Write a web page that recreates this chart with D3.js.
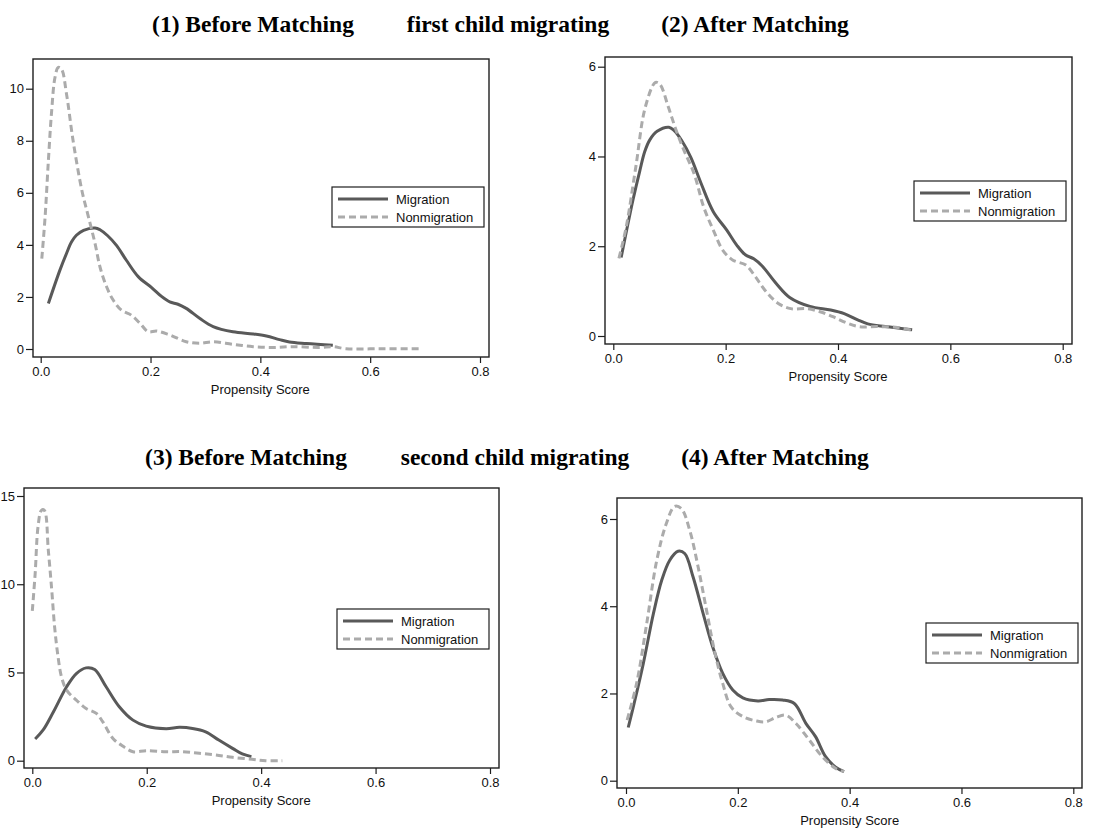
<!DOCTYPE html>
<html>
<head>
<meta charset="utf-8">
<script src="https://cdn.jsdelivr.net/npm/d3@7"></script>
<style>
  body { margin: 0; background: #fff; }
  svg { display: block; }
</style>
</head>
<body>
<div id="viz"></div>
<script>
/* global d3 */
// density estimates, [propensity score, density]
const xTicks = [0, 0.2, 0.4, 0.6, 0.8];
const yTicks1 = [0, 2, 4, 6, 8, 10];
const yTicks2 = [0, 2, 4, 6];
const yTicks3 = [0, 5, 10, 15];
const yTicks4 = [0, 2, 4, 6];

const seriesNames = ['Migration', 'Nonmigration'];

const titlesTop = ['(1) Before Matching', 'first child migrating', '(2) After Matching'];
const titlesBottom = ['(3) Before Matching', 'second child migrating', '(4) After Matching'];

// first child, treated group (same curve before and after matching)
const migFirst = [
  [0.014, 1.75], [0.035, 3.03], [0.047, 3.67], [0.056, 4.11], [0.065, 4.37], [0.078, 4.56],
  [0.099, 4.65], [0.108, 4.58], [0.122, 4.35], [0.138, 3.98], [0.156, 3.41], [0.178, 2.77],
  [0.202, 2.36], [0.22, 2.02], [0.235, 1.81], [0.25, 1.72], [0.265, 1.56], [0.29, 1.17],
  [0.314, 0.86], [0.35, 0.66], [0.387, 0.58], [0.411, 0.5], [0.435, 0.36], [0.453, 0.27],
  [0.484, 0.21], [0.532, 0.14],
];

const nonmigFirstBefore = [
  [0.002, 3.47], [0.008, 5.07], [0.014, 7.24], [0.02, 9.16], [0.026, 10.43], [0.032, 10.82],
  [0.038, 10.75], [0.047, 9.8], [0.059, 8.0], [0.075, 6.09], [0.087, 5.07], [0.099, 4.05],
  [0.108, 3.15], [0.12, 2.39], [0.132, 1.88], [0.147, 1.49], [0.165, 1.3], [0.181, 0.98],
  [0.196, 0.66], [0.211, 0.69], [0.235, 0.54], [0.265, 0.28], [0.29, 0.22], [0.314, 0.28],
  [0.35, 0.18], [0.387, 0.09], [0.423, 0.06], [0.459, 0.09], [0.508, 0.06], [0.532, 0.09],
  [0.556, 0.01], [0.62, 0.01], [0.69, 0.01],
];

const nonmigFirstAfter = [
  [0.01, 1.73], [0.023, 2.43], [0.04, 3.76], [0.057, 5.1], [0.075, 5.65], [0.083, 5.61],
  [0.098, 5.1], [0.112, 4.58], [0.126, 4.13], [0.144, 3.61], [0.161, 2.87], [0.178, 2.36],
  [0.195, 1.91], [0.213, 1.69], [0.236, 1.58], [0.253, 1.32], [0.27, 1.02], [0.293, 0.73],
  [0.316, 0.61], [0.345, 0.61], [0.368, 0.54], [0.391, 0.43], [0.414, 0.3], [0.437, 0.21],
  [0.471, 0.21], [0.506, 0.19], [0.53, 0.13],
];

// second child
const migSecondBefore = [
  [0.005, 1.23], [0.019, 1.74], [0.037, 2.77], [0.06, 4.19], [0.077, 4.94], [0.094, 5.26],
  [0.109, 5.17], [0.129, 4.19], [0.152, 3.06], [0.176, 2.3], [0.199, 1.96], [0.234, 1.81],
  [0.257, 1.89], [0.28, 1.83], [0.303, 1.64], [0.326, 1.17], [0.35, 0.7], [0.367, 0.38],
  [0.383, 0.23],
];

const nonmigSecondBefore = [
  [0.0, 8.49], [0.005, 10.6], [0.01, 13.25], [0.016, 14.19], [0.021, 14.19], [0.028, 11.92],
  [0.034, 9.66], [0.039, 7.58], [0.045, 5.89], [0.051, 4.75], [0.06, 4.0], [0.077, 3.43],
  [0.094, 2.96], [0.112, 2.68], [0.123, 2.21], [0.141, 1.26], [0.158, 0.83], [0.176, 0.51],
  [0.199, 0.57], [0.234, 0.51], [0.263, 0.51], [0.292, 0.42], [0.321, 0.32], [0.35, 0.19],
  [0.384, 0.08], [0.408, 0.0], [0.437, 0.0],
];

const migSecondAfter = [
  [0.004, 1.22], [0.016, 1.85], [0.031, 2.69], [0.049, 3.83], [0.064, 4.6], [0.078, 5.05],
  [0.093, 5.26], [0.105, 5.21], [0.12, 4.67], [0.138, 3.83], [0.155, 3.07], [0.173, 2.46],
  [0.191, 2.08], [0.209, 1.9], [0.236, 1.83], [0.256, 1.86], [0.28, 1.85], [0.301, 1.77],
  [0.322, 1.31], [0.339, 1.01], [0.357, 0.55], [0.375, 0.31], [0.39, 0.21],
];

const nonmigSecondAfter = [
  [0.002, 1.39], [0.019, 2.23], [0.037, 3.6], [0.055, 5.05], [0.072, 5.89], [0.087, 6.29],
  [0.099, 6.24], [0.114, 5.74], [0.129, 4.9], [0.144, 3.91], [0.158, 2.99], [0.173, 2.23],
  [0.188, 1.69], [0.209, 1.47], [0.233, 1.37], [0.25, 1.35], [0.268, 1.45], [0.286, 1.5],
  [0.304, 1.31], [0.328, 0.93], [0.351, 0.55], [0.375, 0.28], [0.39, 0.21],
];

const migColor = '#595959';
const nonmigColor = '#ababab';
const frameColor = '#1e1e1e';
const sansFont = '"Liberation Sans", Arial, sans-serif';
const serifFont = '"Liberation Serif", "Times New Roman", serif';

const width = 1095;
const height = 831;

const svg = d3.select('#viz').append('svg')
  .attr('width', width)
  .attr('height', height);

// panel frames in page pixels; xr = where 0 and 0.8 fall, yr = where 0 and top tick fall
const panels = [
  { frame: [33, 59, 489, 357], xr: [40.7, 480], yr: [349, 88.7], yTicks: yTicks1, legend: [332, 187],
    series: [migFirst, nonmigFirstBefore] },
  { frame: [605, 57, 1072, 344], xr: [613.3, 1062.7], yr: [336, 66.7], yTicks: yTicks2, legend: [914, 181],
    series: [migFirst, nonmigFirstAfter] },
  { frame: [24, 488, 499, 768], xr: [32.3, 490], yr: [760.7, 496], yTicks: yTicks3, legend: [337, 609],
    series: [migSecondBefore, nonmigSecondBefore] },
  { frame: [617, 498, 1082, 788], xr: [626, 1073.3], yr: [780.7, 519], yTicks: yTicks4, legend: [926, 623],
    series: [migSecondAfter, nonmigSecondAfter] },
];

const styles = [
  { color: migColor, dash: null },
  { color: nonmigColor, dash: '7,4' },
];

panels.forEach((p) => {
  const [fx0, fy0, fx1, fy1] = p.frame;
  const x = d3.scaleLinear().domain([0, 0.8]).range(p.xr);
  const y = d3.scaleLinear().domain([0, d3.max(p.yTicks)]).range(p.yr);

  const g = svg.append('g').attr('class', 'panel');

  // curves
  const line = d3.line()
    .x(d => x(d[0]))
    .y(d => y(d[1]))
    .curve(d3.curveCatmullRom.alpha(0.5));

  p.series.forEach((s, i) => {
    g.append('path')
      .datum(s)
      .attr('fill', 'none')
      .attr('stroke', styles[i].color)
      .attr('stroke-width', 3)
      .attr('stroke-linejoin', 'round')
      .attr('stroke-dasharray', styles[i].dash)
      .attr('d', line);
  });

  // frame
  g.append('rect')
    .attr('x', fx0)
    .attr('y', fy0)
    .attr('width', fx1 - fx0)
    .attr('height', fy1 - fy0)
    .attr('fill', 'none')
    .attr('stroke', frameColor)
    .attr('stroke-width', 1.4);

  // axes
  const xAxis = g.append('g')
    .attr('transform', `translate(0, ${fy1})`)
    .call(d3.axisBottom(x).tickValues(xTicks).tickFormat(d3.format('.1f')).tickSize(6).tickPadding(4));

  const yAxis = g.append('g')
    .attr('transform', `translate(${fx0}, 0)`)
    .call(d3.axisLeft(y).tickValues(p.yTicks).tickFormat(d3.format('d')).tickSize(7).tickPadding(2));

  [xAxis, yAxis].forEach((a) => {
    a.select('.domain').remove();
    a.selectAll('.tick line').attr('stroke', frameColor).attr('stroke-width', 1.2);
    a.selectAll('.tick text')
      .attr('fill', '#111')
      .style('font-family', sansFont)
      .style('font-size', '13px');
  });

  g.append('text')
    .text('Propensity Score')
    .attr('x', x(0.4))
    .attr('y', fy1 + 37)
    .style('text-anchor', 'middle')
    .style('font-family', sansFont)
    .style('font-size', '13px')
    .style('fill', '#111');

  // legend
  const [lx, ly] = p.legend;
  const lg = g.append('g').attr('transform', `translate(${lx}, ${ly})`);
  lg.append('rect')
    .attr('width', 152)
    .attr('height', 40)
    .attr('fill', '#fff')
    .attr('stroke', frameColor)
    .attr('stroke-width', 1.2);

  seriesNames.forEach((name, i) => {
    const rowY = 12 + i * 18;
    lg.append('line')
      .attr('x1', 6)
      .attr('x2', 56)
      .attr('y1', rowY)
      .attr('y2', rowY)
      .attr('stroke', styles[i].color)
      .attr('stroke-width', 3)
      .attr('stroke-dasharray', styles[i].dash);
    lg.append('text')
      .text(name)
      .attr('x', 64)
      .attr('y', rowY)
      .attr('dy', '0.35em')
      .style('font-family', sansFont)
      .style('font-size', '13px')
      .style('fill', '#111');
  });
});

// headings
const headingRows = [
  { y: 32, titles: titlesTop, x: [253, 508, 755] },
  { y: 465, titles: titlesBottom, x: [246, 515, 775] },
];

headingRows.forEach((row) => {
  svg.append('g')
    .selectAll('text')
    .data(row.titles)
    .enter()
    .append('text')
    .text(d => d)
    .attr('x', (d, i) => row.x[i])
    .attr('y', row.y)
    .style('text-anchor', 'middle')
    .style('font-family', serifFont)
    .style('font-weight', 'bold')
    .style('font-size', '23.5px')
    .style('fill', '#000');
});
</script>
</body>
</html>
